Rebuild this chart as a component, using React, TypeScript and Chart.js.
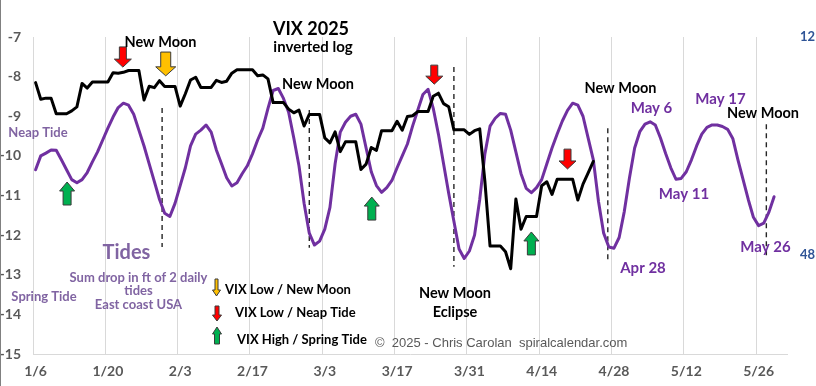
import React, { useEffect, useRef } from 'react';
import { Chart, registerables } from 'chart.js';

Chart.register(...registerables);

// Daily tide values (sum drop in ft of 2 daily tides), Jan 6 .. May 29 (day index 0..143)
const tideValues = [
  -10.35, -10.0, -9.93, -9.85, -9.86, -10.1, -10.35, -10.6, -10.68, -10.6,
  -10.42, -10.15, -9.9, -9.6, -9.3, -9.02, -8.78, -8.67, -8.72, -8.95,
  -9.35, -9.75, -10.2, -10.65, -11.1, -11.45, -11.53, -11.2, -10.75, -10.3,
  -9.75, -9.45, -9.35, -9.22, -9.4, -9.85, -10.2, -10.55, -10.76, -10.68,
  -10.45, -10.25, -9.95, -9.6, -9.3, -8.8, -8.35, -8.3, -8.55, -8.9,
  -9.55, -10.25, -11.2, -11.95, -12.25, -12.15, -11.85, -11.3, -10.2, -9.4,
  -9.15, -9.0, -8.95, -9.2, -9.8, -10.4, -10.75, -10.92, -10.8, -10.62,
  -10.3, -10.0, -9.7, -9.25, -8.85, -8.45, -8.32, -8.8, -9.45, -10.2,
  -10.95, -11.65, -12.35, -12.59, -12.4, -12.0, -11.1, -9.95, -9.25, -9.05,
  -8.93, -8.95, -9.35, -9.9, -10.45, -10.82, -10.93, -10.8, -10.6, -10.2,
  -9.8, -9.45, -9.12, -8.85, -8.67, -8.72, -9.0, -9.55, -10.1, -11.15,
  -11.95, -12.3, -12.33, -12.06, -11.4, -10.55, -9.8, -9.39, -9.2, -9.14,
  -9.22, -9.55, -9.94, -10.3, -10.59, -10.57, -10.4, -10.1, -9.75, -9.45,
  -9.28, -9.22, -9.22, -9.26, -9.33, -9.56, -10.1, -10.6, -11.1, -11.55,
  -11.76, -11.7, -11.42, -11.03,
];

// Daily VIX close (weekends/holidays carry the prior close), Jan 6 .. Apr 24
const vixValues = [
  16.04, 17.82, 17.70, 17.70, 19.54, 19.54, 19.54, 19.19, 18.71, 16.12,
  16.60, 15.97, 15.97, 15.97, 15.97, 15.06, 15.10, 15.02, 14.85, 14.85,
  14.85, 17.90, 16.41, 16.56, 15.84, 16.43, 16.43, 16.43, 18.62, 17.21,
  15.77, 15.50, 16.54, 16.54, 16.54, 15.81, 16.02, 15.89, 15.10, 14.77,
  14.77, 14.77, 14.77, 15.35, 15.27, 15.66, 18.21, 18.21, 18.21, 18.98,
  19.43, 19.10, 21.13, 19.63, 19.63, 19.63, 22.78, 23.51, 21.93, 24.87,
  23.37, 23.37, 23.37, 27.86, 26.92, 24.23, 24.66, 21.77, 21.77, 21.77,
  20.51, 21.70, 19.90, 19.80, 19.28, 19.28, 19.28, 17.48, 17.15, 18.33,
  18.69, 21.65, 21.65, 21.65, 22.28, 21.77, 21.51, 30.02, 45.31, 45.31,
  45.31, 46.98, 52.33, 33.62, 40.72, 37.56, 37.56, 37.56, 30.89, 30.12,
  32.64, 29.65, 29.65, 29.65, 29.65, 33.82, 30.57, 28.45, 26.47,
];

const xTickDays = [0, 14, 28, 42, 56, 70, 84, 98, 112, 126, 140];
const xTickLabels = ['1/6', '1/20', '2/3', '2/17', '3/3', '3/17', '3/31', '4/14', '4/28', '5/12', '5/26'];
const rightTickValues = [12, 48];

// New-moon dashed markers: day, top value, bottom value (left axis units)
const moonDays = [25.0, 53.5, 81.5, 111.3, 142.0];
const moonTops = [-8.79, -8.84, -7.76, -9.3, -9.2];
const moonBottoms = [-12.3, -12.32, -12.8, -12.68, -12.55];

// Arrow markers: day, tail value, tip value, kind
const arrowDays = [17.4, 25.7, 77.7, 103.5, 6.6, 65.6, 96.5];
const arrowTails = [-7.25, -7.38, -7.71, -9.83, -11.24, -11.62, -12.5];
const arrowTips = [-7.76, -7.98, -8.19, -10.33, -10.66, -11.04, -11.92];
const arrowKinds = ['red', 'yellow', 'red', 'red', 'green', 'green', 'green'];

const COLORS: Record<string, string> = { red: '#FF0000', yellow: '#FFC000', green: '#00B050' };
const PURPLE = '#7030A0';
const LIGHT_PURPLE = '#8064A2';
const FONT = 'Lato, "Open Sans", sans-serif';

type Txt = { t: string; x: number; y: number; size: number; bold?: boolean; color: string; align?: CanvasTextAlign; family?: string };

const texts: Txt[] = [
  { t: 'VIX 2025', x: 311, y: 29, size: 18, bold: true, color: '#000' },
  { t: 'inverted log', x: 313, y: 47, size: 15, bold: true, color: '#000' },
  { t: 'New Moon', x: 160.5, y: 42.5, size: 14.5, bold: true, color: '#000' },
  { t: 'New Moon', x: 318, y: 84, size: 14.5, bold: true, color: '#000' },
  { t: 'New Moon', x: 455, y: 293.5, size: 14.5, bold: true, color: '#000' },
  { t: 'Eclipse', x: 455, y: 312, size: 14.5, bold: true, color: '#000' },
  { t: 'New Moon', x: 620.5, y: 88, size: 14.5, bold: true, color: '#000' },
  { t: 'New Moon', x: 763, y: 113, size: 14.5, bold: true, color: '#000' },
  { t: 'May 6', x: 651.5, y: 108, size: 15, bold: true, color: PURPLE },
  { t: 'May 17', x: 720.5, y: 99, size: 15, bold: true, color: PURPLE },
  { t: 'May 11', x: 684, y: 194, size: 15, bold: true, color: PURPLE },
  { t: 'Apr 28', x: 643, y: 268.5, size: 15, bold: true, color: PURPLE },
  { t: 'May 26', x: 765.5, y: 247, size: 15, bold: true, color: PURPLE },
  { t: 'Neap Tide', x: 38, y: 133, size: 13, bold: true, color: LIGHT_PURPLE },
  { t: 'Spring Tide', x: 44, y: 297, size: 13, bold: true, color: LIGHT_PURPLE },
  { t: 'Tides', x: 126.5, y: 253, size: 20, bold: true, color: LIGHT_PURPLE },
  { t: 'Sum drop in ft of 2 daily', x: 138.5, y: 278, size: 13, bold: true, color: LIGHT_PURPLE },
  { t: 'tides', x: 138.5, y: 291, size: 13, bold: true, color: LIGHT_PURPLE },
  { t: 'East coast USA', x: 138.5, y: 305, size: 13, bold: true, color: LIGHT_PURPLE },
  { t: 'VIX Low / New Moon', x: 225, y: 290, size: 13, bold: true, color: '#000', align: 'left' },
  { t: 'VIX Low / Neap Tide', x: 235, y: 313, size: 13, bold: true, color: '#000', align: 'left' },
  { t: 'VIX High / Spring Tide', x: 237, y: 340, size: 13, bold: true, color: '#000', align: 'left' },
  { t: '\u00A9  2025 - Chris Carolan  spiralcalendar.com', x: 375, y: 343, size: 13, color: '#595959', align: 'left', family: '"Liberation Sans", Arial, sans-serif' },
];

function drawArrow(
  ctx: CanvasRenderingContext2D, cx: number, yFrom: number, yTo: number,
  shaftW: number, headW: number, headL: number, fill: string,
) {
  const dir = yTo > yFrom ? 1 : -1;
  const yb = yTo - dir * headL;
  ctx.beginPath();
  ctx.moveTo(cx - shaftW / 2, yFrom);
  ctx.lineTo(cx + shaftW / 2, yFrom);
  ctx.lineTo(cx + shaftW / 2, yb);
  ctx.lineTo(cx + headW / 2, yb);
  ctx.lineTo(cx, yTo);
  ctx.lineTo(cx - headW / 2, yb);
  ctx.lineTo(cx - shaftW / 2, yb);
  ctx.closePath();
  ctx.fillStyle = fill;
  ctx.fill();
  ctx.strokeStyle = '#3a3a3a';
  ctx.lineWidth = 1;
  ctx.lineJoin = 'miter';
  ctx.stroke();
}

const annotationPlugin = {
  id: 'annotations',
  afterDatasetsDraw(chart: any) {
    const ctx: CanvasRenderingContext2D = chart.ctx;
    const xs = chart.scales.x;
    const ys = chart.scales.y;
    ctx.save();
    arrowDays.forEach((d, i) => {
      const cx = xs.getPixelForValue(d);
      const y1 = ys.getPixelForValue(arrowTails[i]);
      const y2 = ys.getPixelForValue(arrowTips[i]);
      const kind = arrowKinds[i];
      if (kind === 'yellow') drawArrow(ctx, cx, y1, y2, 10, 20, 9, COLORS[kind]);
      else if (kind === 'red') drawArrow(ctx, cx, y1, y2, 7, 17, 8, COLORS[kind]);
      else drawArrow(ctx, cx, y1, y2, 8, 15, 9, COLORS[kind]);
    });
    // legend arrows
    drawArrow(ctx, 216.5, 279, 296, 3, 8, 6, COLORS.yellow);
    drawArrow(ctx, 217, 306, 321, 4, 9, 6, COLORS.red);
    drawArrow(ctx, 217, 344, 327, 5, 9, 7, COLORS.green);
    ctx.restore();
  },
  afterDraw(chart: any) {
    const ctx: CanvasRenderingContext2D = chart.ctx;
    ctx.save();
    ctx.fillStyle = '#808080';
    ctx.fillRect(0, 0, 1, chart.height);
    ctx.textBaseline = 'middle';
    texts.forEach((tx) => {
      ctx.font = `${tx.bold ? 'bold ' : ''}${tx.size}px ${tx.family || FONT}`;
      ctx.fillStyle = tx.color;
      ctx.textAlign = tx.align || 'center';
      ctx.fillText(tx.t, tx.x, tx.y);
    });
    ctx.restore();
  },
};

export default function App() {
  const canvasRef = useRef<HTMLCanvasElement | null>(null);

  useEffect(() => {
    const canvas = canvasRef.current;
    if (!canvas) return;

    const moonSets = moonDays.map((d, i) => ({
      type: 'line' as const,
      data: [{ x: d, y: moonTops[i] }, { x: d, y: moonBottoms[i] }],
      borderColor: '#262626',
      borderWidth: 1.4,
      borderDash: [5, 4],
      pointRadius: 0,
      yAxisID: 'y',
      order: 3,
    }));

    const chart = new Chart(canvas, {
      type: 'line',
      data: {
        datasets: [
          {
            label: 'Tides',
            data: tideValues.map((v, i) => ({ x: i + 0.5, y: v })),
            borderColor: PURPLE,
            borderWidth: 3,
            pointRadius: 0,
            borderJoinStyle: 'round',
            borderCapStyle: 'round',
            yAxisID: 'y',
            order: 2,
          },
          {
            label: 'VIX',
            data: vixValues.map((v, i) => ({ x: i + 0.5, y: v })),
            borderColor: '#000000',
            borderWidth: 3,
            pointRadius: 0,
            borderJoinStyle: 'round',
            borderCapStyle: 'round',
            yAxisID: 'y2',
            order: 1,
          },
          ...moonSets,
        ] as any,
      },
      options: {
        responsive: false,
        animation: false,
        layout: { padding: { top: 37, left: 0, right: 0, bottom: 0 } },
        plugins: { legend: { display: false }, tooltip: { enabled: false } },
        scales: {
          x: {
            type: 'linear',
            min: 0,
            max: 146,
            afterBuildTicks: (axis: any) => {
              axis.ticks = xTickDays.map((v) => ({ value: v }));
            },
            afterFit: (scale: any) => { scale.height = 32; },
            ticks: {
              autoSkip: false,
              maxRotation: 0,
              labelOffset: 2.6,
              padding: 9,
              color: '#595959',
              font: { family: FONT, size: 14, weight: 'bold' },
              callback: (_v: any, i: number) => xTickLabels[i],
            },
            grid: { color: '#d9d9d9', lineWidth: 1, drawTicks: false },
            border: { color: '#d9d9d9' },
          },
          y: {
            type: 'linear',
            position: 'left',
            min: -15,
            max: -7,
            afterFit: (scale: any) => { scale.width = 33; },
            ticks: {
              stepSize: 1,
              padding: 12,
              color: '#595959',
              font: { family: FONT, size: 14, weight: 'bold' },
            },
            grid: { display: false, drawTicks: false },
            border: { display: false },
          },
          y2: {
            type: 'logarithmic',
            position: 'right',
            reverse: true,
            min: 12,
            max: 90,
            afterBuildTicks: (axis: any) => {
              axis.ticks = rightTickValues.map((v) => ({ value: v }));
            },
            afterFit: (scale: any) => { scale.width = 29; },
            ticks: {
              padding: 13,
              color: '#2F5496',
              font: { family: FONT, size: 13, weight: 'bold' },
              callback: (v: any) => String(v),
            },
            grid: { display: false, drawTicks: false },
            border: { display: false },
          },
        },
      } as any,
      plugins: [annotationPlugin],
    });

    return () => chart.destroy();
  }, []);

  return (
    <div style={{ position: 'fixed', left: 0, top: 0, width: 816, height: 386, background: '#fff' }}>
      <canvas ref={canvasRef} width={816} height={386} style={{ display: 'block', width: 816, height: 386 }} />
    </div>
  );
}
